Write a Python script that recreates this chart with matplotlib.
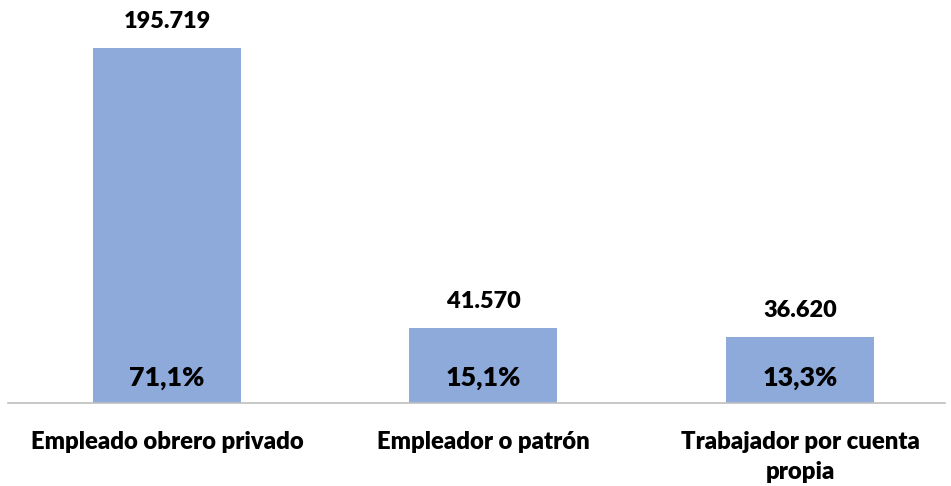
import matplotlib
matplotlib.use("Agg")
import matplotlib.pyplot as plt

categories = ["Empleado obrero privado", "Empleador o patrón", "Trabajador por cuenta\npropia"]
values = [195719, 41570, 36620]
value_labels = ["195.719", "41.570", "36.620"]
pct_labels = ["71,1%", "15,1%", "13,3%"]

plt.rcParams['font.family'] = ['Lato', 'DejaVu Sans']

W, H = 951, 486
fig = plt.figure(figsize=(W/100, H/100), dpi=100)
left_px, right_px, base_px, top_px = 8, 945, 403, 10
ax = fig.add_axes([left_px/W, (H-base_px)/H, (right_px-left_px)/W, (base_px-top_px)/H])

scale = 316.5
x0 = 167
xs = list(range(len(categories)))
ax.bar(xs, values, width=148/scale, color="#8EAADB")
ax.set_xlim(-(x0-left_px)/scale, (right_px-x0)/scale)
ymax = values[0]*(base_px-top_px)/(base_px-48)
ax.set_ylim(0, ymax)
for s in ["top", "right", "left"]:
    ax.spines[s].set_visible(False)
ax.spines["bottom"].set_color("#BFBFBF")
ax.spines["bottom"].set_linewidth(1.2)
ax.set_yticks([])
ax.set_xticks([])
for x, c in zip(xs, categories):
    ax.annotate(c, (x, 0), xytext=(0, -20), textcoords="offset points", ha="center", va="top",
                fontsize=17.2, fontweight="heavy", linespacing=1.48, annotation_clip=False)

for x, v, vl, pl in zip(xs, values, value_labels, pct_labels):
    ax.annotate(vl, (x, v), xytext=(0, 19), textcoords="offset points", ha="center", va="center",
                fontsize=16.9, fontweight="heavy")
    ax.annotate(pl, (x, 0), xytext=(0, 18), textcoords="offset points", ha="center", va="center",
                fontsize=19.3, fontweight="heavy")

fig.savefig("out.png", dpi=100)
